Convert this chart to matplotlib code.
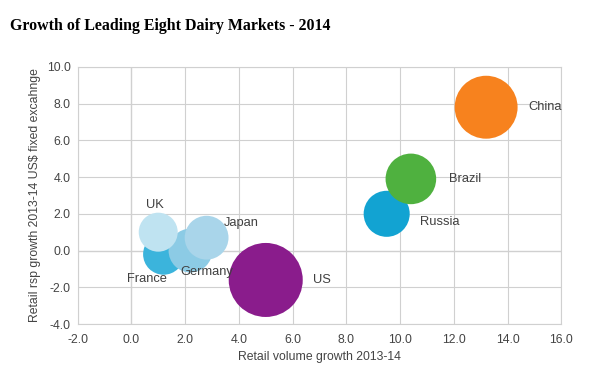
import matplotlib
matplotlib.use("Agg")
import matplotlib.pyplot as plt
import numpy as np

# данные
countries = ['France', 'Germany', 'UK', 'Japan', 'US', 'Russia', 'Brazil', 'China']
volume_growth = [1.2, 2.2, 1.0, 2.8, 5.0, 9.5, 10.4, 13.2]   # ось x
value_growth = [-0.2, 0.0, 1.0, 0.7, -1.6, 2.0, 3.9, 7.8]     # ось y
market_size = [420, 480, 380, 480, 1370, 530, 640, 990]       # размер пузыря
colors = ['#3bb4dc', '#8ccbe5', '#bfe3f1', '#a9d5ea', '#8a1c8c', '#12a3d2', '#4fb13f', '#f7821e']
x_ticks = np.arange(-2, 16.1, 2)
y_ticks = np.arange(-4, 10.1, 2)

fig = plt.figure(figsize=(5.9, 3.67), dpi=100)
ax = fig.add_axes([0.1315, 0.117, 0.82, 0.701])

# пузыри: площадь пропорциональна размеру рынка
s = [(2 * np.sqrt(m) * 0.72) ** 2 for m in market_size]
ax.scatter(volume_growth, value_growth, s=s, c=colors, zorder=3, linewidths=0)

# подписи стран, смещение в пикселях от центра пузыря
offsets = {'France': (-37, -25), 'Germany': (-10, -21), 'UK': (-12, 27), 'Japan': (17, 15),
           'US': (47, 0), 'Russia': (33, -8), 'Brazil': (38, 0), 'China': (42, 0)}
for name, x, y in zip(countries, volume_growth, value_growth):
    dx, dy = offsets[name]
    ax.annotate(name, (x, y), xytext=(dx * 0.72, dy * 0.72), textcoords='offset points',
                fontsize=9.3, color='#404040', ha='left', va='center', zorder=4,
                family='Liberation Sans')

ax.set_xlim(-2, 16)
ax.set_ylim(-4, 10)
ax.set_xticks(x_ticks)
ax.set_yticks(y_ticks)
ax.set_xticklabels(['%.1f' % t for t in x_ticks])
ax.set_yticklabels(['%.1f' % t for t in y_ticks])
ax.tick_params(axis='x', length=0, labelsize=8.8, colors='#444444', pad=7)
ax.tick_params(axis='y', length=0, labelsize=8.8, colors='#444444', pad=5)
for lab in ax.get_xticklabels() + ax.get_yticklabels():
    lab.set_family('Liberation Sans')

ax.grid(True, color='#d0d0d0', linewidth=0.8, zorder=0)
ax.axhline(0, color='#8a8a8a', linewidth=0.8, zorder=1)
ax.axvline(0, color='#8a8a8a', linewidth=0.8, zorder=1)
for sp in ax.spines.values():
    sp.set_color('#d0d0d0')
    sp.set_linewidth(0.8)

ax.set_xlabel('Retail volume growth 2013-14', fontsize=8.8, color='#444444', family='Liberation Sans', labelpad=4)
ax.set_ylabel('Retail rsp growth 2013-14 US$ fixed excahnge', fontsize=8.8, color='#444444',
              family='Liberation Sans', labelpad=4)

fig.text(0.017, 0.93, 'Growth of Leading Eight Dairy Markets - 2014', fontsize=11.4,
         fontweight='bold', family='Liberation Serif', va='center')

plt.savefig('out.png', dpi=100)
